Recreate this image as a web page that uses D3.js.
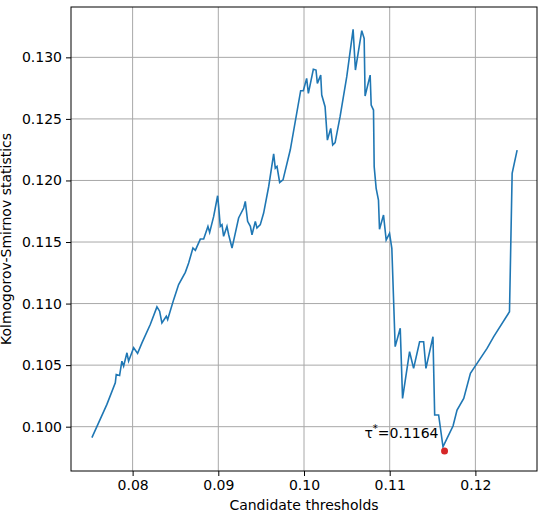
<!DOCTYPE html>
<html>
<head>
<meta charset="utf-8">
<script src="https://cdn.jsdelivr.net/npm/d3@7"></script>
<style>
  body { margin: 0; background: #fff; }
  text { font-family: "DejaVu Sans", sans-serif; }
</style>
</head>
<body>
<div id="chart"></div>
<script>
// Candidate thresholds
var thresholds = [0.07525,0.0770,0.07798,0.07809,0.07848,0.07875,0.07895,0.07934,0.07953,0.08012,0.08058,0.08109,0.08206,0.08284,0.08315,0.08342,0.08393,0.08409,0.08479,0.08537,0.08615,0.08654,0.08704,0.08732,0.08790,0.08829,0.08879,0.08899,0.08946,0.08992,0.09004,0.09023,0.09043,0.09062,0.09101,0.09121,0.09160,0.09237,0.09296,0.09315,0.09342,0.09374,0.09393,0.09432,0.09451,0.09490,0.09529,0.09588,0.09646,0.09665,0.09685,0.09716,0.09755,0.09840,0.09961,0.09992,0.10031,0.10051,0.10109,0.10140,0.10156,0.10195,0.10207,0.10246,0.10273,0.10312,0.10335,0.10363,0.10421,0.10499,0.10573,0.10600,0.10674,0.10702,0.10713,0.10772,0.10784,0.10811,0.10819,0.10842,0.10869,0.10881,0.10928,0.10959,0.10998,0.11025,0.11064,0.11123,0.11150,0.11232,0.11279,0.11349,0.11396,0.11423,0.11505,0.11525,0.11571,0.11622,0.11669,0.11739,0.11786,0.11864,0.11942,0.12136,0.12214,0.12398,0.12429,0.12487];
// KS statistic per threshold
var ksStats = [0.09911,0.10181,0.10357,0.10424,0.10416,0.10532,0.10492,0.10600,0.10532,0.10641,0.10595,0.10681,0.10830,0.10973,0.10938,0.10843,0.10897,0.10870,0.11032,0.11154,0.11254,0.11330,0.11451,0.11432,0.11524,0.11524,0.11627,0.11578,0.11708,0.11876,0.11789,0.11627,0.11641,0.11546,0.11627,0.11559,0.11451,0.11695,0.11776,0.11830,0.11668,0.11627,0.11559,0.11668,0.11614,0.11641,0.11735,0.11951,0.12216,0.12100,0.12114,0.11984,0.12005,0.12249,0.12729,0.12729,0.12829,0.12708,0.12903,0.12897,0.12789,0.12856,0.12694,0.12599,0.12328,0.12423,0.12288,0.12307,0.12518,0.12843,0.13227,0.12897,0.13217,0.13154,0.12686,0.12856,0.12613,0.12572,0.12112,0.11936,0.11841,0.11603,0.11719,0.11516,0.11570,0.11448,0.10650,0.10799,0.10230,0.10609,0.10474,0.10690,0.10690,0.10474,0.10731,0.10095,0.10095,0.09837,0.09905,0.10005,0.10135,0.10230,0.10433,0.10636,0.10731,0.10934,0.12058,0.12247];
var xTicks = [0.08, 0.09, 0.10, 0.11, 0.12];
var yTicks = [0.100, 0.105, 0.110, 0.115, 0.120, 0.125, 0.130];
var bestTau = 0.1164, bestKS = 0.09802;

var margin = {top: 7, right: 13, bottom: 48, left: 71},
    width = 550 - margin.left - margin.right,
    height = 519 - margin.top - margin.bottom;

var svg = d3.select("#chart").append("svg")
  .attr("width", 550).attr("height", 519)
  .append("g")
  .attr("transform", "translate(" + margin.left + "," + margin.top + ")");

var x = d3.scaleLinear().domain([0.07281, 0.12719]).range([0, width]);
var y = d3.scaleLinear().domain([0.0964, 0.13409]).range([height, 0]);

// grid
svg.selectAll(".gx").data(xTicks).enter().append("line")
  .attr("x1", d => x(d)).attr("x2", d => x(d)).attr("y1", 0).attr("y2", height)
  .attr("stroke", "#a8a8a8").attr("stroke-width", 1);
svg.selectAll(".gy").data(yTicks).enter().append("line")
  .attr("y1", d => y(d)).attr("y2", d => y(d)).attr("x1", 0).attr("x2", width)
  .attr("stroke", "#a8a8a8").attr("stroke-width", 1);

var xAxis = svg.append("g")
  .attr("transform", "translate(0," + height + ")")
  .call(d3.axisBottom(x).tickValues(xTicks).tickFormat(d3.format(".2f")).tickSize(5).tickPadding(4));
var yAxis = svg.append("g")
  .call(d3.axisLeft(y).tickValues(yTicks).tickFormat(d3.format(".3f")).tickSize(5).tickPadding(4));
[xAxis, yAxis].forEach(function(a) {
  a.selectAll("text").style("font-size", "14px").attr("fill", "#000");
  a.selectAll("line").attr("stroke", "#000");
  a.select(".domain").remove();
});

svg.append("rect").attr("width", width).attr("height", height)
  .attr("fill", "none").attr("stroke", "#000").attr("stroke-width", 1);

var pts = thresholds.map(function(t, i) { return [t, ksStats[i]]; });
svg.append("path").datum(pts)
  .attr("fill", "none").attr("stroke", "#1f77b4").attr("stroke-width", 1.6)
  .attr("d", d3.line().x(d => x(d[0])).y(d => y(d[1])));

svg.append("circle").attr("cx", x(bestTau)).attr("cy", y(bestKS)).attr("r", 3.5).attr("fill", "#d62728");

var lab = svg.append("text")
  .attr("x", x(bestTau) - 6).attr("y", y(bestKS) - 13)
  .attr("text-anchor", "end").style("font-size", "14px");
lab.append("tspan").text("τ");
lab.append("tspan").attr("dy", -6).style("font-size", "10px").text("*");
lab.append("tspan").attr("dy", 6).text("=0.1164");

svg.append("text").attr("x", width / 2).attr("y", height + 39)
  .attr("text-anchor", "middle").style("font-size", "14px").text("Candidate thresholds");
svg.append("text").attr("transform", "rotate(-90)")
  .attr("x", -height / 2).attr("y", -60)
  .attr("text-anchor", "middle").style("font-size", "14px").text("Kolmogorov-Smirnov statistics");
</script>
</body>
</html>
